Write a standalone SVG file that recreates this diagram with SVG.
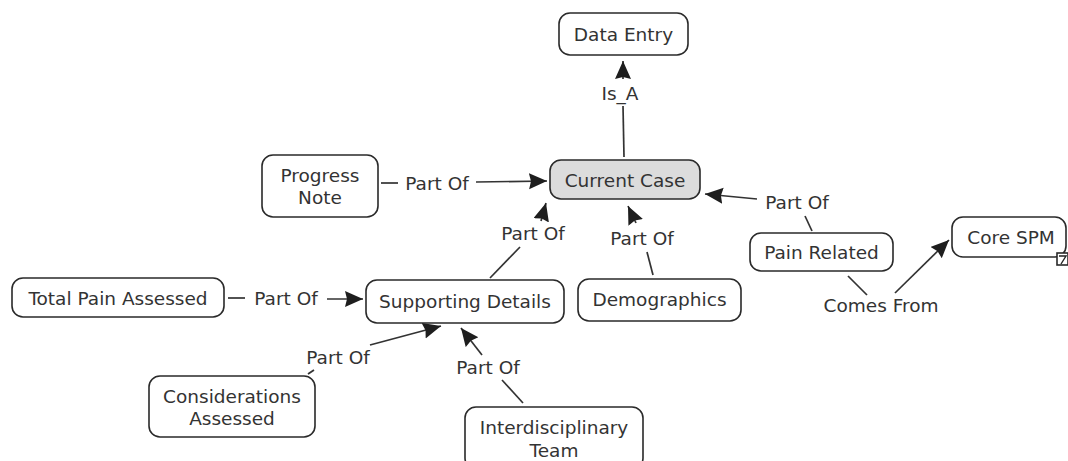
<svg xmlns="http://www.w3.org/2000/svg" width="1068" height="461" viewBox="0 0 1068 461">
<defs>
<style>
.node rect{fill:#fff;stroke:#2a2a2a;stroke-width:1.6}
.node.hl rect{fill:#dcdcdc}
text{font-family:"DejaVu Sans","Liberation Sans",sans-serif;font-size:18.5px;fill:#333;text-anchor:middle;dominant-baseline:central}
.conn line{stroke:#333;stroke-width:1.7}
.conn line.arr{marker-end:url(#ah)}
</style>
<marker id="ah" markerUnits="userSpaceOnUse" markerWidth="20" markerHeight="18" refX="18" refY="8" orient="auto">
<path d="M0,0 L18,8 L0,16 L2,8 z" fill="#1e1e1e"/>
</marker>
</defs>
<rect width="1068" height="461" fill="#fff"/>
<g id="connectors" class="conn">
<line x1="624" y1="157" x2="623" y2="106"/>
<text x="620" y="93">Is_A</text>
<line class="arr" x1="623" y1="79" x2="623" y2="61"/>

<line x1="381" y1="183" x2="398" y2="183"/>
<text x="437" y="183">Part Of</text>
<line class="arr" x1="476" y1="182" x2="547" y2="181"/>

<line x1="812" y1="231" x2="805" y2="216"/>
<text x="797" y="202">Part Of</text>
<line class="arr" x1="757" y1="199" x2="705" y2="194"/>

<line x1="490" y1="278" x2="520" y2="247"/>
<text x="533" y="233">Part Of</text>
<line class="arr" x1="541" y1="221" x2="546" y2="203"/>

<line x1="653" y1="275" x2="647" y2="252"/>
<text x="642" y="238">Part Of</text>
<line class="arr" x1="636" y1="223" x2="628" y2="206"/>

<line x1="228" y1="298" x2="245" y2="298"/>
<text x="286" y="298">Part Of</text>
<line class="arr" x1="327" y1="299" x2="363" y2="299"/>

<line x1="308" y1="374" x2="314" y2="370"/>
<text x="338" y="357">Part Of</text>
<line class="arr" x1="370" y1="345" x2="441" y2="326"/>

<line x1="523" y1="403" x2="502" y2="380"/>
<text x="488" y="367">Part Of</text>
<line class="arr" x1="482" y1="355" x2="461" y2="328"/>

<line x1="848" y1="276" x2="867" y2="295"/>
<text x="881" y="305">Comes From</text>
<line class="arr" x1="895" y1="293" x2="949" y2="240"/>
</g>

<g id="data-entry" class="node">
<rect x="559" y="13" width="129" height="42" rx="11"/>
<text x="623.5" y="34">Data Entry</text>
</g>
<g id="current-case" class="node hl">
<rect x="550" y="160" width="150" height="39" rx="11"/>
<text x="625" y="180">Current Case</text>
</g>
<g id="progress-note" class="node">
<rect x="262" y="155" width="116" height="62" rx="11"/>
<text x="320" y="175">Progress</text>
<text x="320" y="197">Note</text>
</g>
<g id="total-pain-assessed" class="node">
<rect x="12" y="278" width="212" height="39" rx="11"/>
<text x="118" y="298">Total Pain Assessed</text>
</g>
<g id="supporting-details" class="node">
<rect x="366" y="280" width="198" height="43" rx="11"/>
<text x="465" y="301">Supporting Details</text>
</g>
<g id="demographics" class="node">
<rect x="578" y="279" width="163" height="42" rx="11"/>
<text x="659.5" y="299">Demographics</text>
</g>
<g id="pain-related" class="node">
<rect x="750" y="233" width="143" height="38" rx="11"/>
<text x="821.5" y="252">Pain Related</text>
</g>
<g id="core-spm" class="node">
<rect x="952" y="217" width="114" height="40" rx="11"/>
<text x="1011" y="237">Core SPM</text>
<rect x="1057" y="253" width="11" height="12" fill="#fff" stroke="#222" stroke-width="1.2"/>
<path d="M1059,256 L1066,256 L1061,264" fill="none" stroke="#222" stroke-width="1.4"/>
</g>
<g id="considerations-assessed" class="node">
<rect x="149" y="376" width="166" height="61" rx="11"/>
<text x="232" y="396">Considerations</text>
<text x="232" y="418">Assessed</text>
</g>
<g id="interdisciplinary-team" class="node">
<rect x="465" y="407" width="178" height="62" rx="11"/>
<text x="554" y="427">Interdisciplinary</text>
<text x="554" y="450">Team</text>
</g>
</svg>
